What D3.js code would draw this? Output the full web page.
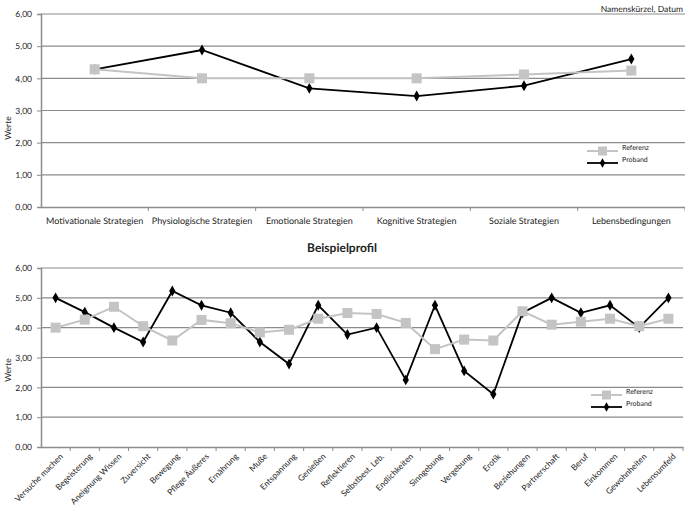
<!DOCTYPE html>
<html>
<head>
<meta charset="utf-8">
<script src="https://cdn.jsdelivr.net/npm/d3@7"></script>
<style>
  body { margin: 0; background: #fff; -webkit-font-smoothing: antialiased; }
  text { font-family: Lato, "Open Sans", sans-serif; fill: #222; text-rendering: geometricPrecision; }
</style>
</head>
<body>
<svg id="chart" width="685" height="510"></svg>
<script>
// top panel: strategy groups
const topCategories = ["Motivationale Strategien", "Physiologische Strategien", "Emotionale Strategien",
                       "Kognitive Strategien", "Soziale Strategien", "Lebensbedingungen"];
const topReferenz = [4.28, 4.0, 4.0, 4.0, 4.12, 4.24];
const topProband  = [4.28, 4.88, 3.69, 3.45, 3.77, 4.6];

// bottom panel: Beispielprofil
const profileCategories = ["Versuche machen", "Begeisterung", "Aneignung Wissen", "Zuversicht", "Bewegung",
  "Pflege Äußeres", "Ernährung", "Muße", "Entspannung", "Genießen", "Reflektieren", "Selbstbest. Leb.",
  "Endlichkeiten", "Sinngebung", "Vergebung", "Erotik", "Beziehungen", "Partnerschaft", "Beruf",
  "Einkommen", "Gewohnheiten", "Lebensumfeld"];
const profileReferenz = [4.0, 4.27, 4.7, 4.05, 3.57, 4.26, 4.15, 3.84, 3.93, 4.3, 4.49, 4.46,
  4.16, 3.28, 3.6, 3.57, 4.55, 4.1, 4.2, 4.3, 4.05, 4.3];
const profileProband = [5.0, 4.52, 4.0, 3.52, 5.23, 4.75, 4.5, 3.52, 2.78, 4.75, 3.77, 4.0,
  2.25, 4.75, 2.55, 1.77, 4.5, 5.0, 4.5, 4.75, 4.0, 5.0];

const yTicks = [0, 1, 2, 3, 4, 5, 6];
const legendLabels = ["Referenz", "Proband"];

const svg = d3.select("#chart");
const fmt = v => d3.format(".2f")(v).replace(".", ",");

svg.append("text")
  .attr("x", 683).attr("y", 12)
  .attr("text-anchor", "end")
  .style("font-size", "8.5px")
  .text("Namenskürzel, Datum");

svg.append("text")
  .attr("x", 342).attr("y", 252)
  .attr("text-anchor", "middle")
  .style("font-size", "12px")
  .style("font-weight", "bold")
  .text("Beispielprofil");

function drawPanel(p) {
  const x = d3.scaleBand().domain(p.categories).range(p.xRange);
  const y = d3.scaleLinear().domain([0, 6]).range(p.yRange);
  const g = svg.append("g");

  // gridlines
  g.selectAll(".grid").data(yTicks.slice(1)).enter().append("line")
    .attr("x1", p.xRange[0]).attr("x2", p.xRange[1])
    .attr("y1", d => y(d)).attr("y2", d => y(d))
    .attr("stroke", "#8c8c8c").attr("stroke-width", 1.2);

  // y axis
  const ya = g.append("g")
    .attr("transform", "translate(" + p.xRange[0] + ",0)")
    .call(d3.axisLeft(y).tickValues(yTicks).tickFormat(fmt).tickSize(4).tickPadding(5));
  ya.select(".domain").attr("stroke", "#8c8c8c").attr("stroke-width", 1.5);
  ya.selectAll(".tick line").attr("stroke", "#8c8c8c");
  ya.selectAll("text").style("font-size", "8.5px").style("fill", "#222")
    .style("font-family", "Lato, sans-serif");

  // x axis
  const xa = g.append("g")
    .attr("transform", "translate(0," + p.yRange[0] + ")")
    .call(d3.axisBottom(x).tickSize(0).tickPadding(p.rotate ? 6 : 11));
  xa.select(".domain").attr("stroke", "#8c8c8c").attr("stroke-width", 1.5);
  xa.selectAll("text").style("font-size", p.rotate ? "8.3px" : "9px").style("fill", "#222")
    .style("font-family", "Lato, sans-serif");
  if (p.rotate) {
    xa.selectAll("text")
      .attr("text-anchor", "end")
      .attr("dy", "0.3em")
      .attr("transform", "translate(2,4) rotate(-45)");
  }
  // band boundary ticks
  const bounds = p.categories.map(c => x(c) + x.bandwidth());
  g.selectAll(".btick").data(bounds).enter().append("line")
    .attr("x1", d => d).attr("x2", d => d)
    .attr("y1", p.yRange[0]).attr("y2", p.yRange[0] + 4)
    .attr("stroke", "#8c8c8c");

  const cx = c => x(c) + x.bandwidth() / 2;
  const line = d3.line().x((d, i) => cx(p.categories[i])).y(d => y(d));

  // Proband (black, diamonds)
  g.append("path").datum(p.proband)
    .attr("fill", "none").attr("stroke", "#000").attr("stroke-width", 1.8)
    .attr("d", line);
  g.selectAll(".pm").data(p.proband).enter().append("path")
    .attr("transform", (d, i) => "translate(" + cx(p.categories[i]) + "," + y(d) + ")")
    .attr("d", d3.symbol().type(d3.symbolDiamond).size(34))
    .attr("fill", "#000");

  // Referenz (grey, squares)
  g.append("path").datum(p.referenz)
    .attr("fill", "none").attr("stroke", "#c4c4c4").attr("stroke-width", 2)
    .attr("d", line);
  g.selectAll(".rm").data(p.referenz).enter().append("rect")
    .attr("x", (d, i) => cx(p.categories[i]) - 5)
    .attr("y", d => y(d) - 5)
    .attr("width", 10).attr("height", 10)
    .attr("fill", "#c4c4c4");

  // legend
  const lg = g.append("g").attr("transform", "translate(" + p.legend[0] + "," + p.legend[1] + ")");
  lg.append("line").attr("x1", 0).attr("x2", 31).attr("y1", 0).attr("y2", 0)
    .attr("stroke", "#c4c4c4").attr("stroke-width", 2);
  lg.append("rect").attr("x", 11).attr("y", -4.5).attr("width", 9).attr("height", 9).attr("fill", "#c4c4c4");
  lg.append("line").attr("x1", 0).attr("x2", 31).attr("y1", 12).attr("y2", 12)
    .attr("stroke", "#000").attr("stroke-width", 1.8);
  lg.append("path").attr("transform", "translate(15.5,12)")
    .attr("d", d3.symbol().type(d3.symbolDiamond).size(26)).attr("fill", "#000");
  lg.selectAll(".lt").data(legendLabels).enter().append("text")
    .attr("x", 35).attr("y", (d, i) => i * 12 - 1)
    .style("font-size", "7px")
    .text(d => d);

  // y label
  g.append("text")
    .attr("transform", "translate(11," + p.labelY + ") rotate(-90)")
    .attr("text-anchor", "middle")
    .style("font-size", "8.5px")
    .text("Werte");
}

drawPanel({
  categories: topCategories, referenz: topReferenz, proband: topProband,
  xRange: [41, 685], yRange: [207, 14], rotate: false,
  legend: [587, 151], labelY: 128
});

drawPanel({
  categories: profileCategories, referenz: profileReferenz, proband: profileProband,
  xRange: [41, 683], yRange: [447, 268], rotate: true,
  legend: [591, 395], labelY: 370
});
</script>
</body>
</html>
